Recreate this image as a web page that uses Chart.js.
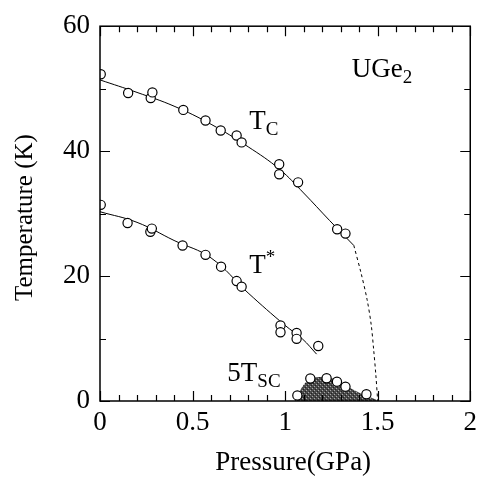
<!DOCTYPE html>
<html>
<head>
<meta charset="utf-8">
<script src="https://cdn.jsdelivr.net/npm/chart.js@4/dist/chart.umd.min.js"></script>
<style>
html,body{margin:0;padding:0;background:#fff;}
#wrap{width:483px;height:480px;}
</style>
</head>
<body>
<div id="wrap"><canvas id="c" width="483" height="480"></canvas></div>
<script>
// ---- data ----
const xTicks = [0, 0.5, 1, 1.5, 2];
const yTicks = [0, 20, 40, 60];

const tcP = [0.004, 0.152, 0.274, 0.283, 0.45, 0.57, 0.652, 0.738, 0.765, 0.968, 0.968, 1.07, 1.281, 1.326];
const tcT = [52.3, 49.3, 48.5, 49.4, 46.6, 44.9, 43.3, 42.5, 41.4, 37.9, 36.3, 35.0, 27.5, 26.8];

const tsP = [0.004, 0.149, 0.272, 0.28, 0.446, 0.57, 0.654, 0.738, 0.765, 0.975, 0.975, 1.062, 1.062, 1.179];
const tsT = [31.4, 28.5, 27.1, 27.6, 24.9, 23.4, 21.5, 19.2, 18.3, 12.1, 11.0, 10.9, 9.95, 8.8];

const scP = [1.066, 1.136, 1.224, 1.28, 1.326, 1.439];
const scT = [0.9, 3.6, 3.65, 3.1, 2.3, 1.1];

const tcFitP = [0, 0.2, 0.4, 0.6, 0.8, 0.97, 1.1, 1.24, 1.371];
const tcFitT = [51.4, 49.4, 47.2, 44.3, 40.7, 37.1, 33.3, 28.9, 24.9];

const tcDashP = [1.371, 1.41, 1.443, 1.465, 1.478, 1.49, 1.5];
const tcDashT = [24.9, 20.5, 16.2, 12.2, 8.3, 4.2, 0];

const tsFitP = [0, 0.2, 0.4, 0.6, 0.8, 1.0, 1.093, 1.17];
const tsFitT = [30.3, 28.6, 25.7, 22.9, 17.3, 12.1, 9.95, 7.5];

const scFillP = [1.05, 1.07, 1.093, 1.129, 1.183, 1.272, 1.344, 1.416, 1.487, 1.5];
const scFillT = [0, 1.0, 2.3, 3.4, 3.85, 3.5, 2.2, 1.1, 0.3, 0];

const labels = [
  {p: 0.806, t: 43.5, main: 'T', sub: 'C', sup: ''},
  {p: 0.806, t: 20.5, main: 'T', sub: '', sup: '*'},
  {p: 1.36, t: 51.9, main: 'UGe', sub: '2', sup: ''},
  {p: 0.688, t: 3.2, main: '5T', sub: 'SC', sup: ''}
];

const zip = (xs, ys) => xs.map((x, i) => ({x: x, y: ys[i]}));

// stipple pattern for superconducting region
function makePattern() {
  const c = document.createElement('canvas');
  c.width = 4; c.height = 4;
  const g = c.getContext('2d');
  g.fillStyle = '#4a4a4a';
  g.fillRect(0, 0, 4, 4);
  g.fillStyle = '#a8a8a8';
  g.fillRect(0, 0, 1, 1);
  g.fillRect(2, 2, 1, 1);
  g.fillStyle = '#222';
  g.fillRect(1, 3, 1, 1);
  g.fillRect(3, 1, 1, 1);
  return g.createPattern(c, 'repeat');
}

const SERIF = '"Liberation Serif", "DejaVu Serif", serif';

const decor = {
  id: 'decor',
  afterDraw(chart) {
    const ctx = chart.ctx;
    const xs = chart.scales.x, ys = chart.scales.y;
    const a = chart.chartArea;
    ctx.save();
    ctx.strokeStyle = '#000';
    ctx.lineWidth = 1.5;
    ctx.strokeRect(a.left, a.top, a.right - a.left, a.bottom - a.top);
    ctx.lineWidth = 1.2;
    ctx.beginPath();
    // x ticks every 0.1, major every 0.5
    for (let i = 0; i <= 20; i++) {
      const v = i / 10;
      const px = Math.round(xs.getPixelForValue(v)) + 0.5;
      const len = (i % 5 === 0) ? 10 : 6;
      ctx.moveTo(px, a.bottom); ctx.lineTo(px, a.bottom - len);
      ctx.moveTo(px, a.top); ctx.lineTo(px, a.top + len);
    }
    // y ticks every 10, major every 20
    for (let i = 0; i <= 6; i++) {
      const v = i * 10;
      const py = Math.round(ys.getPixelForValue(v)) + 0.5;
      const len = (i % 2 === 0) ? 10 : 6;
      ctx.moveTo(a.left, py); ctx.lineTo(a.left + len, py);
      ctx.moveTo(a.right, py); ctx.lineTo(a.right - len, py);
    }
    ctx.stroke();

    // axis titles
    ctx.fillStyle = '#000';
    ctx.font = '27px ' + SERIF;
    ctx.textAlign = 'center';
    ctx.textBaseline = 'alphabetic';
    ctx.fillText('Pressure(GPa)', (a.left + a.right) / 2 + 8, 470);
    ctx.save();
    ctx.translate(32, (a.top + a.bottom) / 2 + 4);
    ctx.rotate(-Math.PI / 2);
    ctx.font = '25px ' + SERIF;
    ctx.fillText('Temperature (K)', 0, 0);
    ctx.restore();

    // annotations
    ctx.textAlign = 'left';
    labels.forEach(l => {
      let x = xs.getPixelForValue(l.p);
      const y = ys.getPixelForValue(l.t);
      ctx.font = '27px ' + SERIF;
      ctx.fillText(l.main, x, y);
      x += ctx.measureText(l.main).width;
      if (l.sub) {
        ctx.font = '19px ' + SERIF;
        ctx.fillText(l.sub, x, y + 6);
      }
      if (l.sup) {
        ctx.font = '19px ' + SERIF;
        ctx.fillText(l.sup, x, y - 10);
      }
    });
    ctx.restore();
  }
};

const pointStyle = {
  showLine: false,
  pointRadius: 4.6,
  pointHoverRadius: 4.6,
  pointBackgroundColor: '#fff',
  pointBorderColor: '#000',
  pointBorderWidth: 1.2,
  order: 0
};
const lineStyle = {
  showLine: true,
  pointRadius: 0,
  borderColor: '#000',
  borderWidth: 1,
  tension: 0.4,
  fill: false,
  order: 1
};

new Chart(document.getElementById('c'), {
  type: 'scatter',
  data: {
    datasets: [
      Object.assign({label: 'Tc', data: zip(tcP, tcT)}, pointStyle),
      Object.assign({label: 'T*', data: zip(tsP, tsT)}, pointStyle),
      Object.assign({label: 'Tsc', data: zip(scP, scT)}, pointStyle),
      Object.assign({label: 'Tc fit', data: zip(tcFitP, tcFitT)}, lineStyle),
      Object.assign({label: 'Tc dash', data: zip(tcDashP, tcDashT)}, lineStyle, {borderDash: [3, 3], tension: 0.3}),
      Object.assign({label: 'T* fit', data: zip(tsFitP, tsFitT)}, lineStyle),
      Object.assign({label: 'SC region', data: zip(scFillP, scFillT)}, lineStyle,
        {fill: 'origin', backgroundColor: makePattern(), borderWidth: 0, borderColor: 'rgba(0,0,0,0)', tension: 0.3, order: 2})
    ]
  },
  options: {
    responsive: false,
    animation: false,
    events: [],
    layout: {padding: {top: 24, right: 11, left: 0, bottom: 0}},
    plugins: {legend: {display: false}, tooltip: {enabled: false}},
    scales: {
      x: {
        type: 'linear', min: 0, max: 2,
        afterFit: s => { s.height = 79; },
        afterBuildTicks: s => { s.ticks = xTicks.map(v => ({value: v})); },
        grid: {display: false, drawTicks: false},
        border: {display: false},
        ticks: {padding: 6, color: '#000', font: {family: SERIF, size: 27}, maxRotation: 0,
          callback: v => String(v)}
      },
      y: {
        type: 'linear', min: 0, max: 60,
        afterFit: s => { s.width = 100; },
        afterBuildTicks: s => { s.ticks = yTicks.map(v => ({value: v})); },
        grid: {display: false, drawTicks: false},
        border: {display: false},
        ticks: {padding: 10, color: '#000', font: {family: SERIF, size: 27},
          callback: v => String(v)}
      }
    }
  },
  plugins: [decor]
});
</script>
</body>
</html>
